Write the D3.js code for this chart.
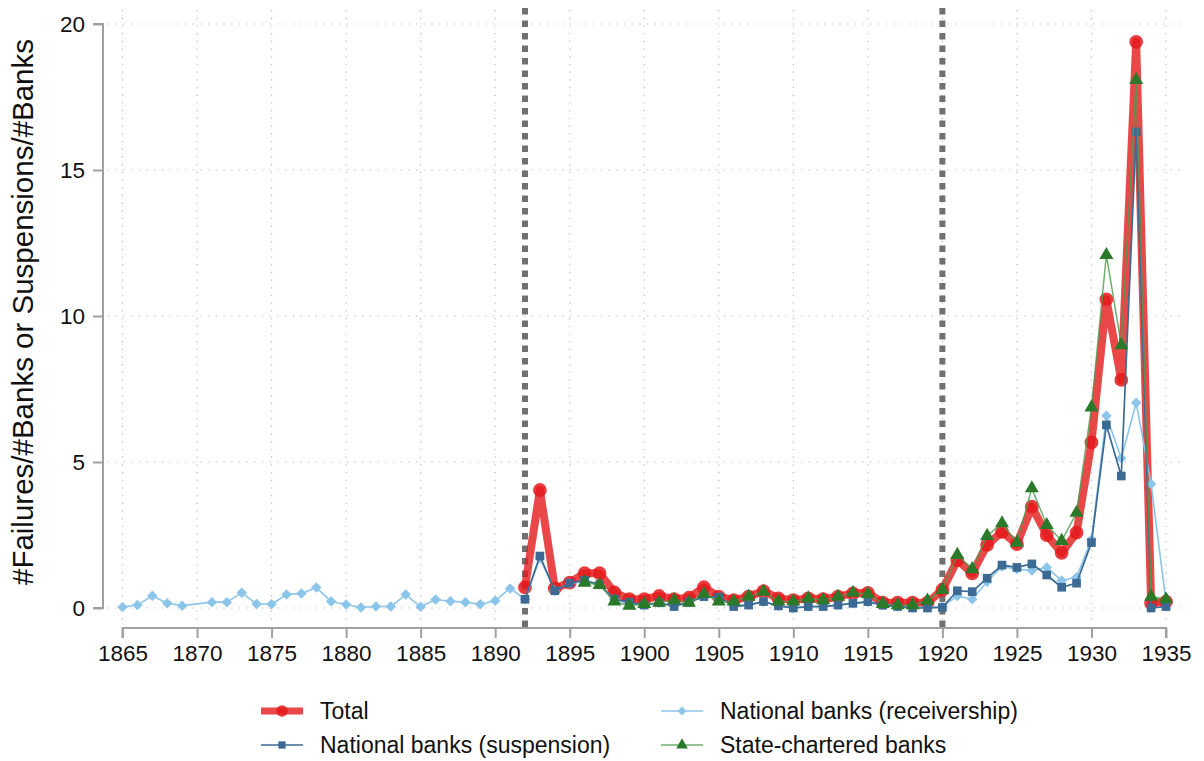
<!DOCTYPE html>
<html>
<head>
<meta charset="utf-8">
<script src="https://cdn.jsdelivr.net/npm/d3@7"></script>
<style>
  body { margin: 0; background: #fff; }
  svg text { font-family: Arial, "Liberation Sans", sans-serif; fill: #111; }
</style>
</head>
<body>
<div class="canvas"></div>
<script>
// data: one value per year from 1865 to 1935 (null = no observation)
const years = d3.range(1865, 1936);

const total = [
  null, null, null, null, null, null, null, null, null, null,
  null, null, null, null, null, null, null, null, null, null,
  null, null, null, null, null, null, null,
  0.71, 4.04, 0.67, 0.87, 1.19, 1.19, 0.53, 0.3, 0.3, 0.41,
  0.3, 0.35, 0.71, 0.39, 0.27, 0.39, 0.58, 0.33, 0.27, 0.33,
  0.3, 0.39, 0.5, 0.52, 0.18, 0.18, 0.18, 0.18, 0.62, 1.64,
  1.19, 2.16, 2.61, 2.19, 3.47, 2.5, 1.89, 2.58, 5.67, 10.57,
  7.81, 19.39, 0.16, 0.22
];

const suspension = [
  null, null, null, null, null, null, null, null, null, null,
  null, null, null, null, null, null, null, null, null, null,
  null, null, null, null, null, null, null,
  0.3, 1.78, 0.59, 0.85, 0.95, 0.8, 0.3, 0.2, 0.1, 0.18,
  0.05, 0.2, 0.39, 0.37, 0.05, 0.1, 0.22, 0.07, 0.0, 0.05,
  0.05, 0.1, 0.16, 0.22, 0.1, 0.05, 0.0, 0.0, 0.02, 0.59,
  0.56, 1.02, 1.47, 1.39, 1.51, 1.13, 0.71, 0.85, 2.24, 6.27,
  4.52, 16.31, 0.0, 0.05
];

const receivership = [
  0.03, 0.1, 0.42, 0.16, 0.08, null, 0.2, 0.2, 0.52, 0.14,
  0.13, 0.46, 0.5, 0.7, 0.22, 0.12, 0.02, 0.05, 0.05, 0.46,
  0.04, 0.29, 0.23, 0.2, 0.13, 0.25, 0.67,
  0.3, 1.7, 0.6, 0.85, 0.9, 0.8, 0.3, 0.15, 0.1, 0.18,
  0.08, 0.2, 0.4, 0.35, 0.08, 0.12, 0.22, 0.08, 0.0, 0.05,
  0.06, 0.1, 0.16, 0.2, 0.1, 0.05, 0.02, 0.02, 0.05, 0.41,
  0.3, 0.9, 1.42, 1.33, 1.28, 1.39, 0.94, 1.05, 2.35, 6.58,
  5.13, 7.03, 4.25, 0.2
];

const stateChartered = [
  null, null, null, null, null, null, null, null, null, null,
  null, null, null, null, null, null, null, null, null, null,
  null, null, null, null, null, null, null,
  null, null, null, null, 0.87, 0.79, 0.22, 0.08, 0.14, 0.18,
  0.27, 0.18, 0.48, 0.22, 0.22, 0.39, 0.56, 0.22, 0.22, 0.33,
  0.27, 0.39, 0.52, 0.48, 0.14, 0.1, 0.1, 0.25, 0.62, 1.82,
  1.33, 2.47, 2.9, 2.24, 4.1, 2.84, 2.3, 3.26, 6.87, 12.09,
  9.0, 18.08, 0.39, 0.3
];

const xTicks = [1865, 1870, 1875, 1880, 1885, 1890, 1895, 1900, 1905, 1910, 1915, 1920, 1925, 1930, 1935];
const yTicks = [0, 5, 10, 15, 20];
const refYears = [1892, 1920];

const series = [
  {name: 'Total', values: total, color: '#e41a1c', width: 8, opacity: 0.8,
    symbol: d3.symbolCircle, size: 150, rotate: 0, mcolor: '#e41a1c', mopacity: 0.85},
  {name: 'National banks (receivership)', values: receivership, color: '#8cc5ea', width: 1.6, opacity: 1,
    symbol: d3.symbolSquare, size: 55, rotate: 45, mcolor: '#8cc5ea', mopacity: 1},
  {name: 'National banks (suspension)', values: suspension, color: '#3c6a93', width: 1.7, opacity: 1,
    symbol: d3.symbolSquare, size: 75, rotate: 0, mcolor: '#3c6a93', mopacity: 1},
  {name: 'State-chartered banks', values: stateChartered, color: '#4e9a4e', width: 1.5, opacity: 0.8,
    symbol: d3.symbolTriangle, size: 85, rotate: 0, mcolor: '#2a7a2a', mopacity: 1}
];

const width = 1204, height = 761;
const svg = d3.select('.canvas')
  .append('svg')
  .attr('width', width)
  .attr('height', height);

const x = d3.scaleLinear().domain([1865, 1935]).range([122.5, 1166]);
const y = d3.scaleLinear().domain([0, 20]).range([608, 24]);

// grid
const grid = svg.append('g');
grid.selectAll('line.h')
  .data(yTicks)
  .enter().append('line')
  .attr('x1', 108).attr('x2', 1182)
  .attr('y1', d => y(d)).attr('y2', d => y(d))
  .attr('stroke', '#b8b8b8').attr('stroke-width', 1.2)
  .attr('stroke-dasharray', '1.2,6.5');
grid.selectAll('line.v')
  .data(xTicks)
  .enter().append('line')
  .attr('x1', d => x(d)).attr('x2', d => x(d))
  .attr('y1', 10).attr('y2', 620)
  .attr('stroke', '#b8b8b8').attr('stroke-width', 1.2)
  .attr('stroke-dasharray', '1.2,6.5');

// reference lines
svg.selectAll('line.ref')
  .data(refYears)
  .enter().append('line')
  .attr('x1', d => x(d)).attr('x2', d => x(d))
  .attr('y1', 8).attr('y2', 632)
  .attr('stroke', '#707070').attr('stroke-width', 6)
  .attr('stroke-dasharray', '6.5,6');

// axes
const yAxis = d3.axisLeft(y).tickValues(yTicks).tickSize(10).tickPadding(8);
const xAxis = d3.axisBottom(x).tickValues(xTicks).tickFormat(d3.format('d')).tickSize(10).tickPadding(7);

const yAxisGroup = svg.append('g').attr('transform', 'translate(103,0)').call(yAxis);
const xAxisGroup = svg.append('g').attr('transform', 'translate(0,628)').call(xAxis);

[yAxisGroup, xAxisGroup].forEach(g => {
  g.select('.domain').attr('stroke', '#a0a0a0').attr('stroke-width', 2);
  g.selectAll('.tick line').attr('stroke', '#a0a0a0').attr('stroke-width', 2);
  g.selectAll('.tick text').attr('font-size', 22.5).attr('fill', '#111');
});
xAxisGroup.select('.domain').attr('d', `M${x(1865)},10V0H${x(1935)}V10`);
yAxisGroup.select('.domain').attr('d', `M-10,${y(20)}H0V${y(0)}H-10`);

svg.append('text')
  .attr('transform', 'translate(33,312) rotate(-90)')
  .attr('text-anchor', 'middle')
  .attr('font-size', 29.5)
  .text('#Failures/#Banks or Suspensions/#Banks');

// series
const line = d3.line().x(d => x(d.year)).y(d => y(d.v));
const plot = svg.append('g');

series.forEach(s => {
  const pts = years.map((yr, i) => ({year: yr, v: s.values[i]})).filter(d => d.v != null);
  const g = plot.append('g');
  g.append('path')
    .datum(pts)
    .attr('d', line)
    .attr('fill', 'none')
    .attr('stroke', s.color)
    .attr('stroke-width', s.width)
    .attr('stroke-linejoin', 'round')
    .attr('opacity', s.opacity);
  g.selectAll('path.m')
    .data(pts)
    .enter().append('path')
    .attr('d', d3.symbol().type(s.symbol).size(s.size))
    .attr('transform', d => `translate(${x(d.year)},${y(d.v)}) rotate(${s.rotate})`)
    .attr('fill', s.mcolor)
    .attr('opacity', s.mopacity);
});

// legend
const legendItems = [
  {s: series[0], lx: 261, ly: 711},
  {s: series[2], lx: 261, ly: 745},
  {s: series[1], lx: 661, ly: 711},
  {s: series[3], lx: 661, ly: 745}
];
const legend = svg.append('g');
legendItems.forEach(item => {
  const s = item.s;
  const g = legend.append('g').attr('transform', `translate(${item.lx},${item.ly})`);
  g.append('line')
    .attr('x1', 0).attr('x2', 42)
    .attr('stroke', s.color)
    .attr('stroke-width', s.width * 0.85)
    .attr('opacity', s.opacity);
  g.append('path')
    .attr('d', d3.symbol().type(s.symbol).size(s.size * 0.7))
    .attr('transform', `translate(21,0) rotate(${s.rotate})`)
    .attr('fill', s.mcolor)
    .attr('opacity', s.mopacity);
  g.append('text')
    .attr('x', 59)
    .attr('dy', '0.35em')
    .attr('font-size', 23)
    .text(s.name);
});
</script>
</body>
</html>
